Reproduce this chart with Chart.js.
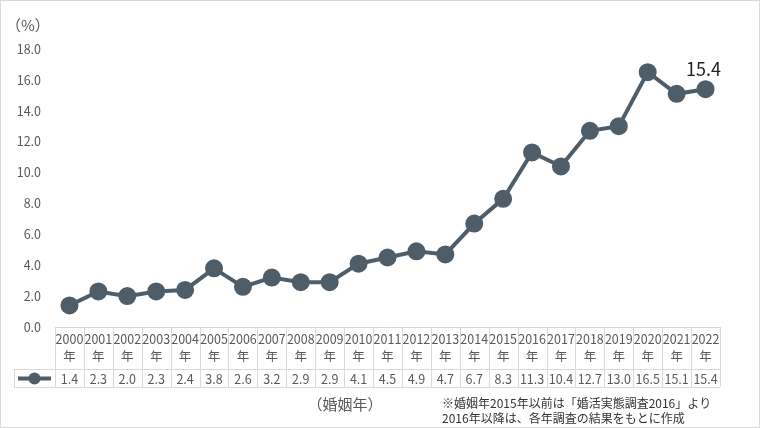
<!DOCTYPE html>
<html lang="ja">
<head>
<meta charset="utf-8">
<title>婚姻年別 推移</title>
<script src="https://cdn.jsdelivr.net/npm/chart.js@4.4.1/dist/chart.umd.min.js"></script>
<style>
  html, body { margin: 0; padding: 0; background: #fff; }
  #wrap { width: 760px; height: 428px; }
</style>
</head>
<body>
<div id="wrap"><canvas id="chart" width="760" height="428"></canvas></div>
<script>
// ── Data ──
const years = ['2000', '2001', '2002', '2003', '2004', '2005', '2006', '2007', '2008', '2009',
  '2010', '2011', '2012', '2013', '2014', '2015', '2016', '2017', '2018', '2019', '2020', '2021', '2022'];
const rates = [1.4, 2.3, 2.0, 2.3, 2.4, 3.8, 2.6, 3.2, 2.9, 2.9,
  4.1, 4.5, 4.9, 4.7, 6.7, 8.3, 11.3, 10.4, 12.7, 13.0, 16.5, 15.1, 15.4];
const yTicks = [0, 2, 4, 6, 8, 10, 12, 14, 16, 18];
const unitLabel = '（%）';
const xTitle = '（婚姻年）';
const noteLines = ['※婚姻年2015年以前は「婚活実態調査2016」より', '2016年以降は、各年調査の結果をもとに作成'];

const FONT = '"Noto Sans CJK JP", "Noto Sans", sans-serif';
const LINE = '#4f5d69';
const GRID = '#d9d9d9';
const TEXT = '#595959';

// ── Table + notes plugin ──
const tablePlugin = {
  id: 'dataTable',
  afterDraw(chart) {
    const { ctx, chartArea } = chart;
    const x = chart.scales.x;
    const colW = (chartArea.right - chartArea.left) / years.length;
    const top = chartArea.bottom;
    const mid = top + 42;
    const bot = top + 60;
    const legL = 14;

    ctx.save();
    // outer frame
    ctx.strokeStyle = GRID;
    ctx.lineWidth = 1;
    ctx.strokeRect(0.5, 0.5, 759, 427);

    // table lines
    ctx.beginPath();
    ctx.moveTo(chartArea.left, top + 0.5); ctx.lineTo(chartArea.right, top + 0.5);
    ctx.moveTo(legL, mid + 0.5); ctx.lineTo(chartArea.right, mid + 0.5);
    ctx.moveTo(legL, bot + 0.5); ctx.lineTo(chartArea.right, bot + 0.5);
    ctx.moveTo(legL + 0.5, mid); ctx.lineTo(legL + 0.5, bot);
    for (let i = 0; i <= years.length; i++) {
      const cx = Math.round(chartArea.left + i * colW) + 0.5;
      ctx.moveTo(cx, top); ctx.lineTo(cx, bot);
    }
    ctx.stroke();

    // cells
    ctx.fillStyle = TEXT;
    ctx.textAlign = 'center';
    ctx.textBaseline = 'middle';
    ctx.font = '12.5px ' + FONT;
    years.forEach((y, i) => {
      const cx = x.getPixelForValue(i);
      ctx.fillText(y, cx, top + 12);
      ctx.fillText('年', cx, top + 29);
      ctx.fillText(rates[i].toFixed(1), cx, mid + 10);
    });

    // legend key
    const ly = mid + 9.5;
    ctx.strokeStyle = LINE;
    ctx.lineWidth = 4;
    ctx.beginPath();
    ctx.moveTo(legL + 4, ly); ctx.lineTo(chartArea.left - 4, ly);
    ctx.stroke();
    ctx.fillStyle = LINE;
    ctx.beginPath();
    ctx.arc((legL + chartArea.left) / 2, ly, 6, 0, Math.PI * 2);
    ctx.fill();

    // unit label
    ctx.fillStyle = TEXT;
    ctx.font = '15px ' + FONT;
    ctx.textAlign = 'left';
    ctx.fillText(unitLabel, 6, 25);

    // x title + notes
    ctx.textAlign = 'center';
    ctx.font = '15px ' + FONT;
    ctx.fillText(xTitle, 345, 404);
    ctx.fillStyle = '#333';
    ctx.textAlign = 'left';
    ctx.font = '12px ' + FONT;
    ctx.fillText(noteLines[0], 442, 403);
    ctx.fillText(noteLines[1], 442, 418);

    // last value label
    const last = rates.length - 1;
    const meta = chart.getDatasetMeta(0).data[last];
    ctx.fillStyle = '#222';
    ctx.font = '18px ' + FONT;
    ctx.textAlign = 'center';
    ctx.fillText(rates[last].toFixed(1), meta.x - 2, meta.y - 20);
    ctx.restore();
  }
};

// ── Chart ──
new Chart(document.getElementById('chart'), {
  type: 'line',
  data: {
    labels: years,
    datasets: [{
      label: '割合',
      data: rates,
      borderColor: LINE,
      backgroundColor: LINE,
      borderWidth: 4,
      pointRadius: 7,
      pointHoverRadius: 7,
      pointBackgroundColor: LINE,
      pointBorderColor: LINE,
      tension: 0
    }]
  },
  options: {
    responsive: false,
    animation: false,
    devicePixelRatio: 1,
    layout: { padding: { top: 49, right: 40, bottom: 101, left: 0 } },
    plugins: { legend: { display: false }, tooltip: { enabled: false } },
    scales: {
      x: {
        display: false,
        offset: true
      },
      y: {
        min: 0,
        max: 18,
        afterFit: s => { s.width = 55; },
        afterBuildTicks: s => { s.ticks = yTicks.map(v => ({ value: v })); },
        grid: { display: false, drawTicks: false },
        border: { display: false },
        ticks: {
          padding: 14,
          color: TEXT,
          font: { size: 12.5, family: FONT },
          callback: v => Number(v).toFixed(1)
        }
      }
    }
  },
  plugins: [tablePlugin]
});
</script>
</body>
</html>
